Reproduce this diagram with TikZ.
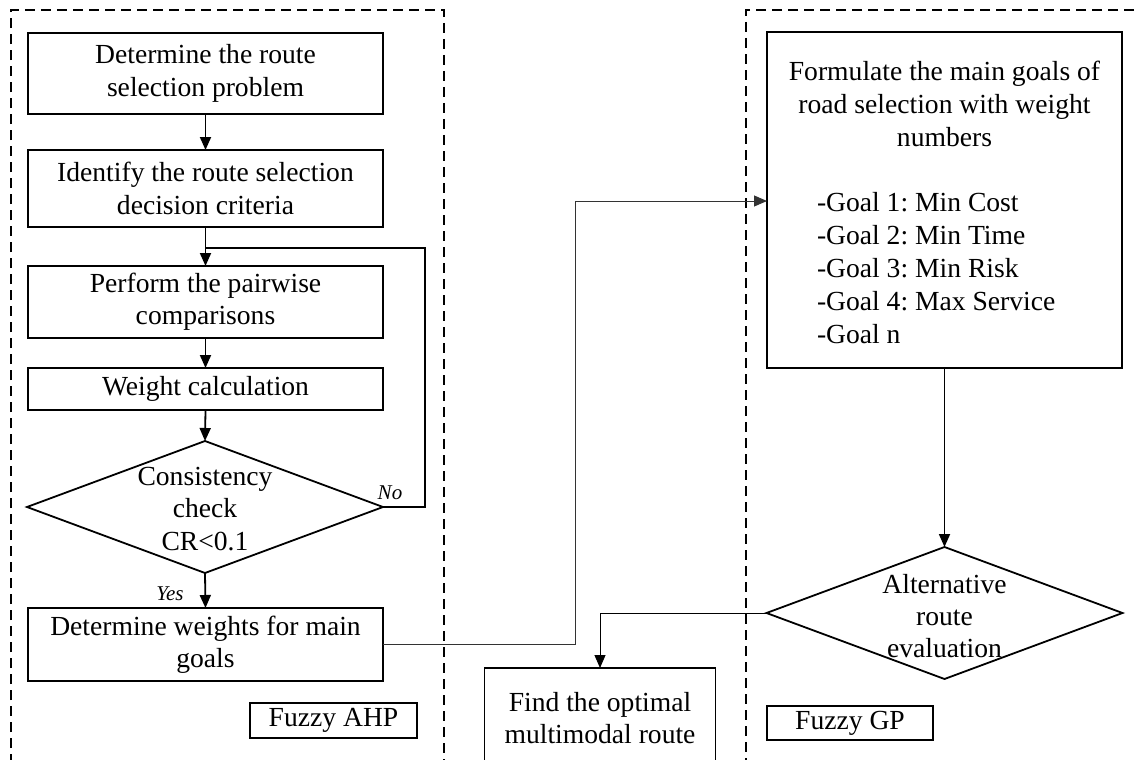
\documentclass[tikz,border=0pt]{standalone}
\usepackage{fontspec}
\setmainfont{Liberation Serif}
\usetikzlibrary{shapes.geometric,arrows.meta}
\begin{document}
\frenchspacing
\begin{tikzpicture}[x=0.5pt,y=-0.5pt,
  every node/.style={outer sep=0pt,font=\fontsize{13.8}{16.2}\selectfont},
  procbox/.style={draw,line width=0.9pt,minimum width=177.5pt,inner sep=2pt,align=center},
  tagbox/.style={draw,line width=0.9pt,inner sep=0pt},
  decision/.style={draw,line width=0.9pt,diamond,inner sep=0pt,minimum width=178pt,minimum height=66pt},
  txt/.style={inner sep=0pt,align=center},
  flow/.style={line width=0.9pt,-{Triangle[length=6.5pt,width=5.5pt]}},
  thinflow/.style={line width=0.5pt,-{Triangle[length=6.5pt,width=5.5pt]}},
  frame/.style={line width=0.8pt,dash pattern=on 5pt off 3pt},
  answer/.style={inner sep=0pt,font=\fontsize{10.5}{12}\selectfont\itshape}]
\useasboundingbox (0,0) rectangle (1137,760);
\clip (0,0) rectangle (1137,760);

% dashed panels
\draw[frame] (11,780) -- (11,10) -- (444,10) -- (444,780);
\draw[frame] (1150,10) -- (746,10) -- (746,780);

% Fuzzy AHP column
\node[procbox,minimum height=40.5pt] (b1) at (205.5,73.5) {Determine the route\\selection problem};
\node[procbox,minimum height=38.5pt] (b2) at (205.5,188.5) {Identify the route selection\\decision criteria};
\node[procbox,minimum height=36pt] (b3) at (205.5,302) {Perform the pairwise\\comparisons};
\node[procbox,minimum height=21pt] (b4) at (205.5,389) {Weight calculation};
\node[decision] (d1) at (205,507) {};
\node[txt] (d1t) at (205,509) {Consistency\\check\\CR<0.1};
\node[procbox,minimum height=36.5pt] (b5) at (205.5,644.5) {Determine weights for main\\goals};
\node[tagbox,minimum width=83.5pt,minimum height=17.5pt] (ahp) at (333.5,720.5) {Fuzzy AHP};

\draw[flow] (b1.south) -- (b2.north);
\draw[flow] (b2.south) -- (b3.north);
\draw[flow] (b3.south) -- (b4.north);
\draw[flow] (b4.south) -- (d1.north);
\draw[flow] (d1.south) -- (b5.north);
\coordinate (loopin) at (205,248);
\draw[line width=0.9pt] (d1.east) -- ++(42,0) |- (loopin);
\node[answer] (no) at (390,493) {No};
\node[answer] (yes) at (170,594) {Yes};

% Fuzzy GP column
\node[draw,line width=0.9pt,minimum width=177.5pt,minimum height=168pt,inner sep=0pt] (b6) at (944.5,200) {};
\node[txt,font=\fontsize{13.8}{16.6}\selectfont] (b6t) at (944.5,104) {Formulate the main goals of\\road selection with weight\\numbers};
\node[txt,align=left,anchor=west,font=\fontsize{13.8}{16.6}\selectfont] (goals) at (817,268)
  {-Goal 1: Min Cost\\-Goal 2: Min Time\\-Goal 3: Min Risk\\-Goal 4: Max Service\\-Goal n};
\node[decision] (d2) at (944.5,613) {};
\node[txt] (d2t) at (944.5,616) {Alternative\\route\\evaluation};
\node[tagbox,minimum width=83pt,minimum height=17pt] (gp) at (850,723) {Fuzzy GP};

\draw[flow] (b6.south) -- (d2.north);

% result box in the middle
\node[draw,line width=0.9pt,minimum width=115.5pt,minimum height=70pt,inner sep=0pt,anchor=north] (b7) at (600,668) {};
\node[txt] (b7t) at (600,718) {Find the optimal\\multimodal route};

% links between the two methods
\coordinate (bend) at (575,201);
\draw[thinflow,black!80] (b5.east) -| (bend) -- (bend -| b6.west);
\draw[thinflow] (d2.west) -| (b7.north);
\end{tikzpicture}
\end{document}
